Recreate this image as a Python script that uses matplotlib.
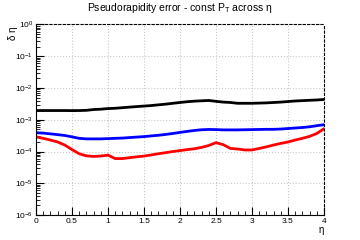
import matplotlib
matplotlib.use("Agg")
import matplotlib.pyplot as plt
from matplotlib.ticker import MultipleLocator, LogLocator, NullFormatter

plt.rcParams['font.family'] = ['Liberation Sans', 'DejaVu Sans']
plt.rcParams['mathtext.fontset'] = 'custom'
plt.rcParams['mathtext.rm'] = 'Liberation Sans'
plt.rcParams['mathtext.it'] = 'Liberation Sans'

# eta grid
eta = [i / 10 for i in range(41)]

# black curve (x 1e-3)
black = [1.95, 1.95, 1.95, 1.95, 1.95, 1.94, 1.95, 1.98, 2.1, 2.15,
         2.25, 2.3, 2.4, 2.5, 2.6, 2.7, 2.8, 2.95, 3.1, 3.3,
         3.5, 3.7, 3.85, 3.95, 4.05, 3.8, 3.6, 3.5, 3.3, 3.3,
         3.3, 3.35, 3.4, 3.5, 3.6, 3.75, 3.9, 4.0, 4.1, 4.2, 4.35]
# blue curve (x 1e-4)
blue = [3.9, 3.8, 3.6, 3.4, 3.2, 2.9, 2.6, 2.5, 2.5, 2.5,
        2.55, 2.6, 2.65, 2.75, 2.85, 2.95, 3.1, 3.25, 3.45, 3.7,
        4.0, 4.3, 4.6, 4.85, 4.95, 4.9, 4.8, 4.8, 4.8, 4.85,
        4.9, 4.95, 5.0, 5.0, 5.1, 5.3, 5.5, 5.7, 6.0, 6.5, 7.0]
# red curve (x 1e-4)
red = [2.9, 2.6, 2.3, 2.0, 1.6, 1.15, 0.85, 0.73, 0.70, 0.72,
       0.77, 0.60, 0.60, 0.64, 0.68, 0.72, 0.78, 0.85, 0.92, 1.0,
       1.07, 1.15, 1.22, 1.35, 1.55, 1.9, 1.65, 1.25, 1.2, 1.12,
       1.12, 1.25, 1.4, 1.6, 1.8, 2.0, 2.3, 2.6, 3.0, 3.7, 5.2]

fig = plt.figure(figsize=(3.6, 2.4), dpi=100)
ax = fig.add_axes([0.1, 0.104, 0.8, 0.794])

ax.plot(eta, [v * 1e-3 for v in black], color='black', lw=2.0)
ax.plot(eta, [v * 1e-4 for v in blue], color='blue', lw=2.0)
ax.plot(eta, [v * 1e-4 for v in red], color='red', lw=2.0)

ax.set_yscale('log')
ax.set_xlim(0, 4)
ax.set_ylim(1e-6, 1)

ax.xaxis.set_major_locator(MultipleLocator(0.5))
ax.xaxis.set_minor_locator(MultipleLocator(0.1))
ax.yaxis.set_major_locator(LogLocator(base=10, numticks=10))
ax.yaxis.set_minor_locator(LogLocator(base=10, subs=range(2, 10), numticks=20))
ax.yaxis.set_minor_formatter(NullFormatter())
ax.xaxis.set_major_formatter(plt.FuncFormatter(lambda v, p: '%g' % v))
ax.xaxis.offsetText.set_visible(False)
ax.yaxis.offsetText.set_visible(False)

ax.tick_params(which='both', direction='in', labelsize=6, top=False, right=False, pad=2)
ax.tick_params(which='major', length=6)
ax.tick_params(which='minor', length=3)

ax.grid(True, which='major', color='#c8c8c8', linestyle=':', linewidth=0.8)
for s in ['top', 'right']:
    ax.spines[s].set_linestyle((0, (2, 2)))
for s in ax.spines.values():
    s.set_linewidth(0.8)

fig.text(0.5, 0.965, r'Pseudorapidity error - const P$_{\mathrm{T}}$ across η', ha='center', va='center', fontsize=7.5)
fig.text(0.035, 0.86, 'δ η', rotation=90, ha='center', va='center', fontsize=7)
fig.text(0.892, 0.04, 'η', ha='center', va='center', fontsize=7)

fig.savefig('out.png', dpi=100)
